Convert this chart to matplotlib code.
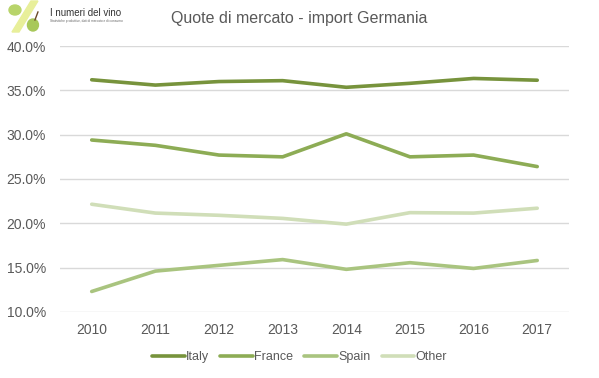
import matplotlib.pyplot as plt
import matplotlib.patches as mpatches
from matplotlib.ticker import PercentFormatter

plt.rcParams['font.family'] = ['Liberation Sans', 'DejaVu Sans']

years = [2010, 2011, 2012, 2013, 2014, 2015, 2016, 2017]
italy = [36.2, 35.6, 36.0, 36.1, 35.35, 35.8, 36.35, 36.15]
france = [29.4, 28.8, 27.7, 27.5, 30.1, 27.5, 27.7, 26.4]
spain = [12.3, 14.6, 15.25, 15.9, 14.8, 15.55, 14.9, 15.8]
other = [22.15, 21.15, 20.9, 20.55, 19.9, 21.2, 21.15, 21.7]

series = ['Italy', 'France', 'Spain', 'Other']
colors = ['#77933c', '#8dac55', '#a9c47f', '#d0deb8']

fig = plt.figure(figsize=(5.99, 3.78), dpi=100)
ax = fig.add_axes([0.1, 0.175, 0.85, 0.703])

for name, vals, c in zip(series, [italy, france, spain, other], colors):
    ax.plot(years, vals, color=c, lw=2.6, label=name, solid_capstyle='round')

ax.set_xlim(2009.5, 2017.5)
ax.set_ylim(10, 40)
ax.set_yticks([10, 15, 20, 25, 30, 35, 40])
ax.yaxis.set_major_formatter(PercentFormatter(decimals=1))
ax.set_xticks(years)
ax.grid(axis='y', color='#d9d9d9', lw=1)
ax.set_axisbelow(True)
for s in ax.spines.values():
    s.set_visible(False)
ax.tick_params(length=0, colors='#595959', labelsize=10)
ax.tick_params(axis='y', pad=10)
ax.tick_params(axis='x', pad=8)

fig.text(0.5, 0.952, 'Quote di mercato - import Germania', ha='center', va='center',
         fontsize=11.5, color='#595959')

leg = fig.legend(loc='center', bbox_to_anchor=(0.5, 0.055), ncol=4, frameon=False,
                 fontsize=9, handlelength=2.6, handletextpad=0.1, columnspacing=0.9,
                 labelcolor='#595959')

# logo (approximation)
lax = fig.add_axes([0.0, 1 - 34 / 378, 0.2, 34 / 378])
lax.set_xlim(0, 120)
lax.set_ylim(0, 34)
lax.axis('off')
lax.add_patch(mpatches.Polygon([[12, 2], [19, 2], [38, 33], [31, 33]], color='#e8ef9a'))
lax.add_patch(mpatches.Ellipse((15, 24), 12, 10, color='#b8d46a'))
lax.add_patch(mpatches.Ellipse((33, 9), 11, 12, color='#a8c85a'))
lax.plot([35, 38], [14, 22], color='#6b4a2a', lw=1)
lax.text(50, 21, 'I numeri del vino', fontsize=7, color='#333333', va='center')
lax.text(50, 13, 'Statistiche produttive, dati di mercato e di consumo', fontsize=2.3,
         color='#666666', va='center')

fig.savefig('out.png', dpi=100)
